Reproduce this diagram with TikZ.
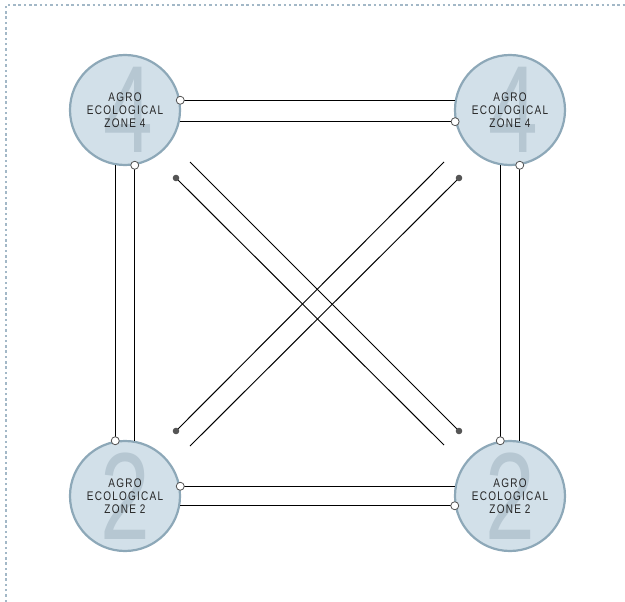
\documentclass[tikz,border=0pt]{standalone}
\usepackage{fontspec}
\setmainfont{Liberation Sans}
\newfontfamily\zonefont[FakeStretch=0.8, LetterSpace=10]{Liberation Sans}
\newfontfamily\digitfont[FakeStretch=0.72]{Liberation Sans}
\usepackage{tikz}
\usetikzlibrary{positioning}
\definecolor{zonefill}{HTML}{D2E0E9}
\definecolor{zoneedge}{HTML}{8DA8B8}
\definecolor{zonedigit}{HTML}{B6C7D2}
\definecolor{framecol}{HTML}{A3B8C7}
\definecolor{dotcol}{HTML}{555555}

\tikzset{
    zone/.style={draw=zoneedge, fill=zonefill, line width=2.2pt, circle, minimum size=110pt, inner sep=0pt,
        text=zonedigit, font=\digitfont\fontsize{124}{124}\selectfont},
    zonetext/.style={align=center, text=black!85, font=\zonefont\fontsize{12.5}{13}\selectfont, inner sep=0pt},
    link/.style={line width=1pt, black},
    port/.style={draw=dotcol, fill=white, line width=0.8pt},
    joint/.style={fill=dotcol},
    frame/.style={draw=framecol, line width=1.6pt, dash pattern=on 2.5pt off 2.8pt}
}

\begin{document}
\begin{tikzpicture}[x=1pt, y=-1pt]
        \useasboundingbox (0,0) rectangle (625,602);
        % Frame
        \draw[frame] (6,602) -- (6,5) -- (625,5);

        % Zones
        \node[zone] (zoneNW) at (125,110) {\hspace{6pt}4};
        \node[zone] (zoneNE) at (510,110) {\hspace{6pt}4};
        \node[zone] (zoneSW) at (125,496) {2};
        \node[zone] (zoneSE) at (510,496) {2};
        \node[zonetext] (labelNW) at (zoneNW.center) {AGRO\\ECOLOGICAL\\ZONE 4};
        \node[zonetext] (labelNE) at (zoneNE.center) {AGRO\\ECOLOGICAL\\ZONE 4};
        \node[zonetext] (labelSW) at (zoneSW.center) {AGRO\\ECOLOGICAL\\ZONE 2};
        \node[zonetext] (labelSE) at (zoneSE.center) {AGRO\\ECOLOGICAL\\ZONE 2};

        % Diagonal ends
        \coordinate (diagNWa) at (176,178);
        \coordinate (diagSEa) at (444,445);
        \coordinate (diagNWb) at (190,162);
        \coordinate (diagSEb) at (459,431);
        \coordinate (diagNEa) at (459,178);
        \coordinate (diagSWa) at (190,446);
        \coordinate (diagNEb) at (444,162);
        \coordinate (diagSWb) at (176,431);

        % Links
        \draw[link] (zoneNW.10) -- (zoneNE.170);
        \draw[link] (zoneNW.-12) -- (zoneNE.-168);
        \draw[link] (zoneSW.10) -- (zoneSE.170);
        \draw[link] (zoneSW.-10) -- (zoneSE.-170);
        \draw[link] (zoneNW.-100) -- (zoneSW.100);
        \draw[link] (zoneNW.-80) -- (zoneSW.80);
        \draw[link] (zoneNE.-100) -- (zoneSE.100);
        \draw[link] (zoneNE.-80) -- (zoneSE.80);
        \draw[link] (diagNWa) -- (diagSEa);
        \draw[link] (diagNWb) -- (diagSEb);
        \draw[link] (diagNEa) -- (diagSWa);
        \draw[link] (diagNEb) -- (diagSWb);

        % Ports
        \filldraw[port] (zoneNW.10) circle (4pt);
        \filldraw[port] (zoneNE.-168) circle (4pt);
        \filldraw[port] (zoneSW.10) circle (4pt);
        \filldraw[port] (zoneSE.-170) circle (4pt);
        \filldraw[port] (zoneNW.-80) circle (4pt);
        \filldraw[port] (zoneSW.100) circle (4pt);
        \filldraw[port] (zoneNE.-80) circle (4pt);
        \filldraw[port] (zoneSE.100) circle (4pt);
        \fill[joint] (diagNWa) circle (3.3pt);
        \fill[joint] (diagSEb) circle (3.3pt);
        \fill[joint] (diagNEa) circle (3.3pt);
        \fill[joint] (diagSWb) circle (3.3pt);
\end{tikzpicture}
\end{document}
